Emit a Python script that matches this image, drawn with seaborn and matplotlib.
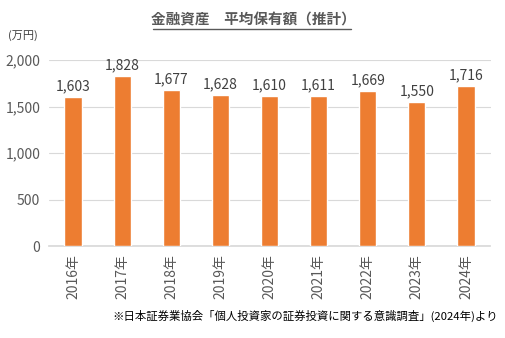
import matplotlib
matplotlib.use("Agg")
import matplotlib.pyplot as plt
import seaborn as sns
import pandas as pd

years = ["2016年", "2017年", "2018年", "2019年", "2020年", "2021年", "2022年", "2023年", "2024年"]
amounts = [1603, 1828, 1677, 1628, 1610, 1611, 1669, 1550, 1716]
y_ticks = [0, 500, 1000, 1500, 2000]

sns.set_theme(style="white")
plt.rcParams["font.family"] = ["Noto Sans CJK JP", "DejaVu Sans"]

df = pd.DataFrame({"year": years, "amount": amounts})

fig = plt.figure(figsize=(5.05, 3.38), dpi=100)
ax = fig.add_axes([48.5 / 505, 92 / 338, 442 / 505, 186 / 338])

sns.barplot(data=df, x="year", y="amount", color="#ED7D31", saturation=1,
            width=0.35, ax=ax, zorder=3)

ax.set_ylim(0, 2000)
ax.set_xlim(-0.5, len(years) - 0.5)
ax.set_yticks(y_ticks)
ax.set_yticklabels([f"{v:,}" for v in y_ticks], color="#595959", fontsize=10)
ax.yaxis.grid(True, color="#D9D9D9", linewidth=0.8, zorder=0)
ax.set_xlabel("")
ax.set_ylabel("")
for s in ["top", "right", "left"]:
    ax.spines[s].set_visible(False)
ax.spines["bottom"].set_color("#D9D9D9")
ax.tick_params(axis="both", length=0, pad=6)
ax.set_xticks(range(len(years)))
ax.set_xticklabels(years, rotation=90, color="#595959", fontsize=10)

for i, v in enumerate(amounts):
    ax.text(i, v + 40, f"{v:,}", ha="center", va="bottom", fontsize=10, color="#404040")

fig.text(8 / 505, 1 - 36 / 338, "(万円)", fontsize=8, color="#404040", va="center")
fig.text(253 / 505, 1 - 19 / 338, "金融資産　平均保有額（推計）", fontsize=10.5, weight="bold",
         color="#595959", ha="center", va="center")
fig.add_artist(plt.Line2D([153 / 505, 351 / 505], [1 - 29 / 338, 1 - 29 / 338],
                          color="#595959", linewidth=1))
fig.text(498 / 505, 1 - 316 / 338, "※日本証券業協会「個人投資家の証券投資に関する意識調査」(2024年)より",
         fontsize=8.2, color="#000000", ha="right", va="center")

fig.savefig("out.png", dpi=100)
